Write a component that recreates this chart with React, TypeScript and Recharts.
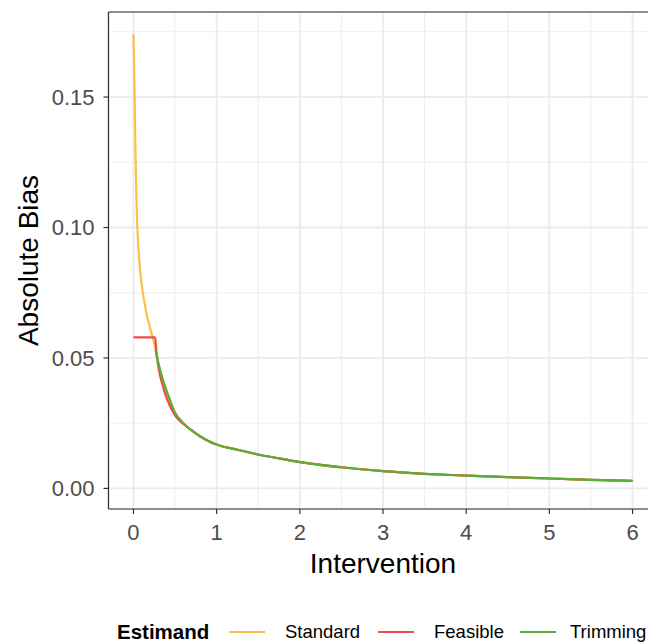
import { LineChart, Line, XAxis, YAxis, CartesianGrid, ReferenceLine } from "recharts";

const standardX = [0, 0.01, 0.02, 0.03, 0.04, 0.05, 0.07, 0.1, 0.15, 0.2, 0.25, 0.3, 0.35, 0.4, 0.5, 0.6, 0.7, 0.8, 0.9, 1, 1.25, 1.5, 1.75, 2, 2.5, 3, 3.5, 4, 4.5, 5, 5.5, 6];
const standardY = [0.174, 0.158, 0.137, 0.119, 0.106, 0.098, 0.087, 0.078, 0.068, 0.0615, 0.0555, 0.048, 0.042, 0.0372, 0.029, 0.025, 0.0222, 0.02, 0.0182, 0.0168, 0.0148, 0.013, 0.0115, 0.0101, 0.0081, 0.0066, 0.0056, 0.0049, 0.0043, 0.0038, 0.0033, 0.0029];

const feasibleX = [0, 0.1, 0.2, 0.25, 0.26, 0.28, 0.3, 0.35, 0.4, 0.5, 0.6, 0.7, 0.8, 0.9, 1, 1.25, 1.5, 1.75, 2, 2.5, 3, 3.5, 4, 4.5, 5, 5.5, 6];
const feasibleY = [0.0579, 0.0579, 0.0579, 0.0579, 0.0577, 0.051, 0.0465, 0.0395, 0.0345, 0.028, 0.0247, 0.0222, 0.02, 0.0182, 0.0168, 0.0148, 0.013, 0.0115, 0.0101, 0.0081, 0.0066, 0.0056, 0.0049, 0.0043, 0.0038, 0.0033, 0.0029];

const trimmingX = [0.265, 0.3, 0.35, 0.4, 0.5, 0.6, 0.7, 0.8, 0.9, 1, 1.25, 1.5, 1.75, 2, 2.5, 3, 3.5, 4, 4.5, 5, 5.5, 6];
const trimmingY = [0.0533, 0.048, 0.042, 0.0372, 0.029, 0.025, 0.0222, 0.02, 0.0182, 0.0168, 0.0148, 0.013, 0.0115, 0.0101, 0.0081, 0.0066, 0.0056, 0.0049, 0.0043, 0.0038, 0.0033, 0.0029];

const xTicks = [0, 1, 2, 3, 4, 5, 6];
const yTicks = [0, 0.05, 0.1, 0.15];
const xMinor = [0.5, 1.5, 2.5, 3.5, 4.5, 5.5];
const yMinor = [0.025, 0.075, 0.125, 0.175];

const series = [
  { name: "Standard", color: "#FDBF47", xs: standardX, ys: standardY },
  { name: "Feasible", color: "#F04A4B", xs: feasibleX, ys: feasibleY },
  { name: "Trimming", color: "#5BAD3A", xs: trimmingX, ys: trimmingY },
];

// legend key / label left edges (px)
const legendKeyLeft = [229, 378, 520];
const legendTextLeft = [285, 434, 570];

const FONT = '"Liberation Sans", Arial, Helvetica, sans-serif';
const X_DOMAIN = [-0.3, 6.3];
const Y_DOMAIN = [-0.0079, 0.1826];

export default function App() {
  return (
    <div
      style={{
        position: "fixed",
        left: 0,
        top: 0,
        width: 648,
        height: 644,
        overflow: "hidden",
        background: "#fff",
        fontFamily: FONT,
      }}
    >
      <LineChart width={680} height={644} margin={{ top: 12, right: 22.5, left: 0, bottom: 69 }}>
        <CartesianGrid
          stroke="#EEEEEE"
          strokeWidth={1}
          verticalValues={xMinor}
          horizontalValues={yMinor}
        />
        <CartesianGrid stroke="#EBEBEB" strokeWidth={1.8} />
        <XAxis
          type="number"
          dataKey="x"
          domain={X_DOMAIN}
          ticks={xTicks}
          allowDataOverflow
          height={66}
          tickSize={5}
          tickMargin={10}
          axisLine={{ stroke: "#333333", strokeWidth: 1.2 }}
          tickLine={{ stroke: "#333333", strokeWidth: 1.2 }}
          tick={{ fill: "#4D4D4D", fontSize: 22, fontFamily: FONT }}
          label={{
            content: (p: any) => {
              const vb = p.viewBox;
              return (
                <text
                  x={vb.x + vb.width / 2}
                  y={573}
                  textAnchor="middle"
                  fontSize={28}
                  fontFamily={FONT}
                  fill="#000"
                >
                  Intervention
                </text>
              );
            },
          }}
        />
        <YAxis
          type="number"
          dataKey="y"
          domain={Y_DOMAIN}
          ticks={yTicks}
          allowDataOverflow
          width={108.5}
          tickSize={5}
          tickMargin={9}
          tickFormatter={(v: number) => v.toFixed(2)}
          axisLine={{ stroke: "#333333", strokeWidth: 1.2 }}
          tickLine={{ stroke: "#333333", strokeWidth: 1.2 }}
          tick={{ fill: "#4D4D4D", fontSize: 22, fontFamily: FONT }}
          label={{
            content: (p: any) => {
              const vb = p.viewBox;
              const cx = 28;
              const cy = vb.y + vb.height / 2;
              return (
                <text
                  x={cx}
                  y={cy}
                  transform={`rotate(-90 ${cx} ${cy})`}
                  textAnchor="middle"
                  dominantBaseline="central"
                  fontSize={28}
                  fontFamily={FONT}
                  fill="#000"
                >
                  Absolute Bias
                </text>
              );
            },
          }}
        />
        <ReferenceLine y={Y_DOMAIN[1]} stroke="#333333" strokeWidth={1.2} ifOverflow="extendDomain" />
        {series.map((s) => (
          <Line
            key={s.name}
            name={s.name}
            data={s.xs.map((x, i) => ({ x, y: s.ys[i] }))}
            dataKey="y"
            type="monotoneX"
            stroke={s.color}
            strokeWidth={2.2}
            dot={false}
            activeDot={false}
            isAnimationActive={false}
          />
        ))}
      </LineChart>
      <div style={{ position: "absolute", left: 0, top: 619, width: 700, height: 26 }}>
        <span
          style={{
            position: "absolute",
            left: 117,
            top: 0,
            lineHeight: "26px",
            fontWeight: "bold",
            fontSize: 20.5,
            color: "#000",
            whiteSpace: "nowrap",
          }}
        >
          Estimand
        </span>
        {series.map((s, i) => (
          <span key={s.name}>
            <span
              style={{
                position: "absolute",
                left: legendKeyLeft[i],
                top: 12,
                width: 36,
                height: 2.2,
                background: s.color,
              }}
            />
            <span
              style={{
                position: "absolute",
                left: legendTextLeft[i],
                top: 0,
                lineHeight: "26px",
                fontSize: 18.5,
                color: "#000",
                whiteSpace: "nowrap",
              }}
            >
              {s.name}
            </span>
          </span>
        ))}
      </div>
    </div>
  );
}
